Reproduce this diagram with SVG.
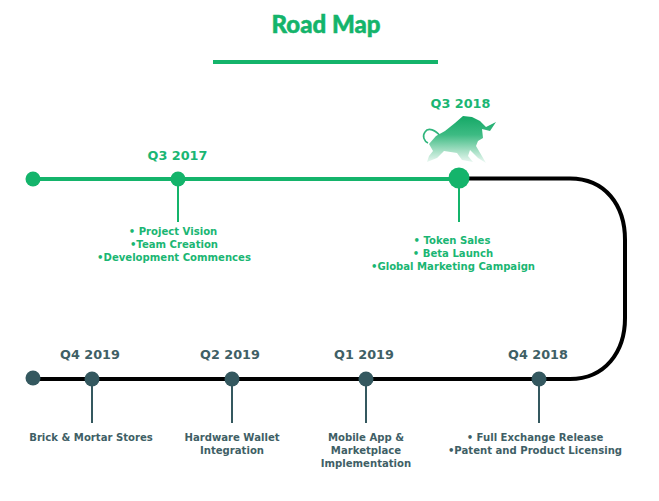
<svg xmlns="http://www.w3.org/2000/svg" width="659" height="501" viewBox="0 0 659 501">
<style>
text{font-family:"DejaVu Sans","Liberation Sans",sans-serif;font-weight:700;text-anchor:middle}
.q{font-size:12.8px}
.b{font-size:10.1px}
.g{fill:#1ab673}
.d{fill:#3f5f66}
.gl{stroke:#14b46b;fill:none}
.dl{stroke:#34585f;fill:none}
.dot{fill:#14b46b}
.dd{fill:#34585f}
</style>
<defs>
<linearGradient id="bullFill" gradientUnits="userSpaceOnUse" x1="0" y1="116" x2="0" y2="163">
<stop offset="0" stop-color="#14a866"/>
<stop offset=".4" stop-color="#3dbb83"/>
<stop offset=".75" stop-color="#a8e0c6"/>
<stop offset="1" stop-color="#eef9f4"/>
</linearGradient>
</defs>
<rect width="659" height="501" fill="#fff"/>
<g id="title">
<text x="326" y="33" font-size="24" fill="#14b46b" stroke="#14b46b" stroke-width=".5" style="font-family:'Lato','Liberation Sans',sans-serif;font-weight:900">Road Map</text>
<rect x="213" y="60" width="225" height="4" fill="#14b46b"/>
</g>
<g id="connectors">
<path d="M460 178.500H570C605 178.500 625 205 625 240V318C625 352 605 379 570 379H33" fill="none" stroke="#000" stroke-width="4"/>
<path d="M33 179H459" class="gl" stroke-width="4"/>
<path d="M178 179V222M459 179V222" class="gl" stroke-width="2"/>
<path d="M92 379V423M232 379V423M366 379V423M539 379V423" class="dl" stroke-width="2"/>
</g>
<g id="start"><circle cx="33" cy="179" r="7.500" class="dot"/></g>
<g id="q3-2017">
<circle cx="178" cy="179" r="7.500" class="dot"/>
<text x="177.500" y="160" class="q g">Q3 2017</text>
<text x="173" y="235" class="b g">• Project Vision</text>
<text x="174" y="248" class="b g">•Team Creation</text>
<text x="174" y="261" class="b g">•Development Commences</text>
</g>
<g id="q3-2018">
<circle cx="459" cy="178" r="10.500" class="dot"/>
<text x="460.500" y="108" class="q g">Q3 2018</text>
<path fill="none" stroke="#2fb57c" stroke-width="1.600" d="M440 136C436 130 428 127 425 132C422 136 424 141 428 143"/>
<path fill="url(#bullFill)" d="M436 136L445 131L455 123L463 116L472 117L480 121L486 127L496 122L490 131L482 129L483 138L478 141L476 146L486 163L478 158L470 150L468 156L473 162L462 160L457 153L444 151L437 158L427 162L429 156L433 151L429 144Z"/>
<text x="452" y="244" class="b g">• Token Sales</text>
<text x="453" y="257" class="b g">• Beta Launch</text>
<text x="453" y="270" class="b g">•Global Marketing Campaign</text>
</g>
<g id="end"><circle cx="33" cy="378" r="7.500" class="dd"/></g>
<g id="q4-2019">
<circle cx="92" cy="379" r="7.500" class="dd"/>
<text x="90" y="359" class="q d">Q4 2019</text>
<text x="91" y="441" class="b d">Brick &amp; Mortar Stores</text>
</g>
<g id="q2-2019">
<circle cx="232" cy="379" r="7.500" class="dd"/>
<text x="230" y="359" class="q d">Q2 2019</text>
<text x="232" y="441" class="b d">Hardware Wallet</text>
<text x="232" y="454" class="b d">Integration</text>
</g>
<g id="q1-2019">
<circle cx="366" cy="379" r="7.500" class="dd"/>
<text x="364" y="359" class="q d">Q1 2019</text>
<text x="366" y="441" class="b d">Mobile App &amp;</text>
<text x="366" y="454" class="b d">Marketplace</text>
<text x="366" y="467" class="b d">Implementation</text>
</g>
<g id="q4-2018">
<circle cx="539" cy="379" r="7.500" class="dd"/>
<text x="538" y="359" class="q d">Q4 2018</text>
<text x="535" y="441" class="b d">• Full Exchange Release</text>
<text x="535" y="454" class="b d">•Patent and Product Licensing</text>
</g>
</svg>
